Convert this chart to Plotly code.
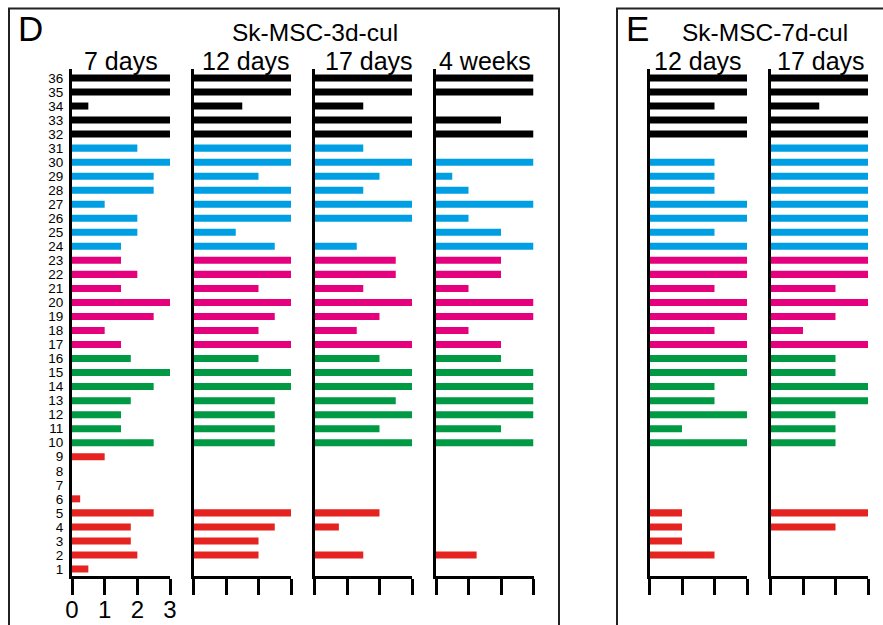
import plotly.graph_objects as go

rows = list(range(1, 37))
row_colors = (["#E52421"] * 9 + ["#009A44"] * 7 + ["#E5007E"] * 7 +
              ["#009FE3"] * 8 + ["#000000"] * 5)

# values for rows 1..36
d_7days = [0.5, 2, 1.8, 1.8, 2.5, 0.25, 0, 0, 1,
           2.5, 1.5, 1.5, 1.8, 2.5, 3, 1.8,
           1.5, 1, 2.5, 3, 1.5, 2, 1.5,
           1.5, 2, 2, 1, 2.5, 2.5, 3, 2,
           3, 3, 0.5, 3, 3]
d_12days = [0, 2, 2, 2.5, 3, 0, 0, 0, 0,
            2.5, 2.5, 2.5, 2.5, 3, 3, 2,
            3, 2, 2.5, 3, 2, 3, 3,
            2.5, 1.3, 3, 3, 3, 2, 3, 3,
            3, 3, 1.5, 3, 3]
d_17days = [0, 1.5, 0, 0.75, 2, 0, 0, 0, 0,
            3, 2, 3, 2.5, 3, 3, 2,
            3, 1.3, 2, 3, 1.5, 2.5, 2.5,
            1.3, 0, 3, 3, 1.5, 2, 3, 1.5,
            3, 3, 1.5, 3, 3]
d_4weeks = [0, 1.25, 0, 0, 0, 0, 0, 0, 0,
            3, 2, 3, 3, 3, 3, 2,
            2, 1, 3, 3, 1, 2, 2,
            3, 2, 1, 3, 1, 0.5, 3, 0,
            3, 2, 0, 3, 3]
e_12days = [0, 2, 1, 1, 1, 0, 0, 0, 0,
            3, 1, 3, 2, 2, 3, 3,
            3, 2, 3, 3, 2, 3, 3,
            3, 2, 3, 3, 2, 2, 2, 0,
            3, 3, 2, 3, 3]
e_17days = [0, 0, 0, 2, 3, 0, 0, 0, 0,
            2, 2, 2, 3, 3, 2, 2,
            3, 1, 2, 3, 2, 3, 3,
            3, 3, 3, 3, 3, 3, 3, 3,
            3, 3, 1.5, 3, 3]

series = [d_7days, d_12days, d_17days, d_4weeks, e_12days, e_17days]
subtitles = ["7 days", "12 days", "17 days", "4 weeks", "12 days", "17 days"]
x_ticks = [0, 1, 2, 3]

W, H = 883, 625
x_px = [(72, 170), (193.5, 291), (314.5, 412), (436, 533.5), (649.5, 747), (770.5, 868)]
sub_cx = [121, 246, 369, 485, 698, 821]
y_top, y_bot = 69, 576

FONT = "Arial, Liberation Sans, sans-serif"
fig = go.Figure()
layout = dict(width=W, height=H, margin=dict(l=0, r=0, t=0, b=0, autoexpand=False),
              paper_bgcolor="white", plot_bgcolor="white", showlegend=False,
              bargap=0.5, font=dict(family=FONT, color="black"))

for i, vals in enumerate(series):
    n = "" if i == 0 else str(i + 1)
    fig.add_trace(go.Bar(x=vals, y=rows, orientation="h",
                         marker=dict(color=row_colors, line=dict(width=0)),
                         width=0.5, xaxis="x" + n, yaxis="y" + n,
                         hoverinfo="x+y"))
    x0, x1 = x_px[i]
    layout["xaxis" + n] = dict(domain=[x0 / W, x1 / W], range=[0, 3],
                               anchor="y" + n, showgrid=False, zeroline=False,
                               showline=True, linewidth=3, linecolor="black",
                               ticks="outside", ticklen=16, tickwidth=3,
                               tickcolor="black", tickvals=x_ticks,
                               ticktext=[str(t) for t in x_ticks],
                               showticklabels=(i == 0), automargin=False,
                               tickfont=dict(size=24, family=FONT),
                               ticklabelstandoff=-6, fixedrange=True)
    layout["yaxis" + n] = dict(domain=[1 - y_bot / H, 1 - y_top / H],
                               range=[0.5, 36.64], anchor="x" + n,
                               showgrid=False, zeroline=False, showline=True,
                               linewidth=3, linecolor="black", ticks="",
                               tickvals=rows, ticktext=[str(r) for r in rows],
                               showticklabels=(i == 0), automargin=False,
                               tickfont=dict(size=13.5, family=FONT),
                               ticklabelstandoff=3, fixedrange=True)

fig.update_layout(**layout)

annotations = []
for i, t in enumerate(subtitles):
    annotations.append(dict(text=t, x=sub_cx[i] / W, y=1 - 61 / H,
                            xref="paper", yref="paper", showarrow=False,
                            xanchor="center", yanchor="middle",
                            font=dict(size=25, family=FONT)))
annotations += [
    dict(text="D", x=16 / W, y=1 - 29 / H, xref="paper", yref="paper",
         showarrow=False, xanchor="left", yanchor="middle",
         font=dict(size=35, family=FONT)),
    dict(text="E", x=624 / W, y=1 - 29 / H, xref="paper", yref="paper",
         showarrow=False, xanchor="left", yanchor="middle",
         font=dict(size=35, family=FONT)),
    dict(text="Sk-MSC-3d-cul", x=315 / W, y=1 - 33 / H, xref="paper",
         yref="paper", showarrow=False, xanchor="center", yanchor="middle",
         font=dict(size=24.5, family=FONT)),
    dict(text="Sk-MSC-7d-cul", x=765 / W, y=1 - 33 / H, xref="paper",
         yref="paper", showarrow=False, xanchor="center", yanchor="middle",
         font=dict(size=24.5, family=FONT)),
]
fig.update_layout(annotations=annotations)

shapes = [
    dict(type="rect", xref="paper", yref="paper", x0=9 / W, x1=559 / W,
         y0=-0.1, y1=1 - 8.5 / H, line=dict(color="#222", width=2)),
    dict(type="rect", xref="paper", yref="paper", x0=617 / W, x1=1.1,
         y0=-0.1, y1=1 - 8.5 / H, line=dict(color="#222", width=2)),
]
fig.update_layout(shapes=shapes)

fig.write_html("out.html", config={"displayModeBar": False},
               post_script="document.body.style.margin='0';"
                           "document.body.style.overflow='hidden';")
